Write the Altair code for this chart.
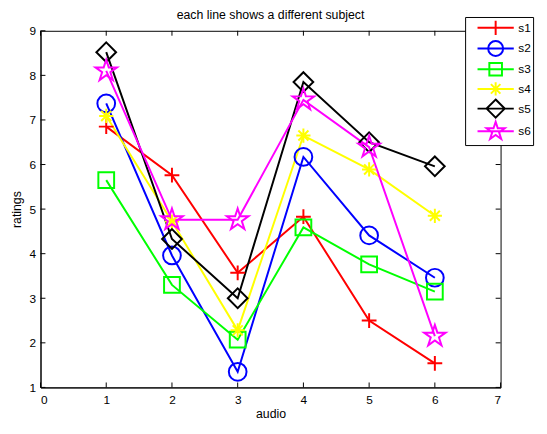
import math
import altair as alt
import pandas as pd

# ---------------- data ----------------
series = ["s1", "s2", "s3", "s4", "s5", "s6"]
audio = [1, 2, 3, 4, 5, 6]
s1 = [6.85, 5.76, 3.57, 4.83, 2.50, 1.54]
s2 = [7.37, 3.96, 1.35, 6.17, 4.41, 3.46]
s3 = [5.65, 3.30, 2.07, 4.59, 3.76, 3.15]
s4 = [7.09, 4.72, 2.28, 6.65, 5.89, 4.85]
s5 = [8.52, 4.33, 3.00, 7.85, 6.50, 5.96]
s6 = [8.10, 4.76, 4.76, 7.45, 6.39, 2.15]
x_ticks = [0, 1, 2, 3, 4, 5, 6, 7]
y_ticks = [1, 2, 3, 4, 5, 6, 7, 8, 9]

colors = ["#ff0000", "#0000ff", "#00ff00", "#ffff00", "#000000", "#ff00ff"]

rows = []
for name, vals in zip(series, [s1, s2, s3, s4, s5, s6]):
    for a, v in zip(audio, vals):
        rows.append({"series": name, "audio": a, "rating": v})
df = pd.DataFrame(rows)

# ---------------- marker paths ----------------
def f(v):
    return f"{v:.3f}"

def plus(r):
    return f"M{f(-r)},0L{f(r)},0M0,{f(-r)}L0,{f(r)}"

def circle(r):
    return f"M{f(r)},0A{f(r)},{f(r)} 0 1,1 {f(-r)},0A{f(r)},{f(r)} 0 1,1 {f(r)},0Z"

def square(r):
    return f"M{f(-r)},{f(-r)}L{f(r)},{f(-r)}L{f(r)},{f(r)}L{f(-r)},{f(r)}Z"

def asterisk(r):
    d = r * 0.707
    return plus(r) + f"M{f(-d)},{f(-d)}L{f(d)},{f(d)}M{f(-d)},{f(d)}L{f(d)},{f(-d)}"

def diamond(r):
    return f"M0,{f(-r)}L{f(r)},0L0,{f(r)}L{f(-r)},0Z"

def star(R):
    ri = R * 0.382
    pts = []
    for k in range(10):
        ang = math.radians(-90 + 36 * k)
        rr = R if k % 2 == 0 else ri
        pts.append((rr * math.cos(ang), rr * math.sin(ang)))
    return "M" + "L".join(f"{f(x)},{f(y)}" for x, y in pts) + "Z"

chart_shapes = [plus(0.75), circle(0.9), square(0.8), asterisk(0.72), diamond(1.0), star(1.15)]

def with_line(p, L=2.3):
    return f"M{f(-L)},0L{f(L)},0" + p

legend_shapes = [with_line(plus(0.9)), with_line(circle(0.95)), with_line(square(0.8)),
                 with_line(asterisk(0.85)), with_line(diamond(1.15)), with_line(star(1.2))]

FONT = "Liberation Sans"
W, H = 467, 362

xscale = alt.Scale(domain=[0, 7], nice=False, zero=False)
yscale = alt.Scale(domain=[1, 9], nice=False, zero=False)

xaxis = alt.Axis(values=x_ticks, ticks=False, grid=False, title="audio", labelPadding=7,
                 titlePadding=3, domainColor="black", labelColor="black", titleColor="black",
                 labelFontSize=12, titleFontSize=12.5, titleFontWeight="normal", format="d")
yaxis = alt.Axis(values=y_ticks, ticks=False, grid=False, title="ratings", labelPadding=5,
                 titlePadding=6, domainColor="black", labelColor="black", titleColor="black",
                 labelFontSize=12, titleFontSize=12.5, titleFontWeight="normal", format="d")

color_scale = alt.Scale(domain=series, range=colors)

# inner ticks (MATLAB style, pointing inward on all four sides)
tx = 5.0 / W * 7
ty = 5.0 / H * 8
xt_df = pd.DataFrame({"v": x_ticks})
yt_df = pd.DataFrame({"v": y_ticks})

tick_kw = dict(color="black", strokeWidth=1)
xb = alt.Chart(xt_df).transform_calculate(a="1", b=f"1+{ty}").mark_rule(**tick_kw).encode(
    x=alt.X("v:Q", scale=xscale, axis=xaxis), y=alt.Y("a:Q", scale=yscale, axis=yaxis), y2="b:Q")
xtp = alt.Chart(xt_df).transform_calculate(a="9", b=f"9-{ty}").mark_rule(**tick_kw).encode(
    x=alt.X("v:Q", scale=xscale), y=alt.Y("a:Q", scale=yscale), y2="b:Q")
yl = alt.Chart(yt_df).transform_calculate(a="0", b=f"{tx}").mark_rule(**tick_kw).encode(
    y=alt.Y("v:Q", scale=yscale), x=alt.X("a:Q", scale=xscale), x2="b:Q")
yr = alt.Chart(yt_df).transform_calculate(a="7", b=f"7-{tx}").mark_rule(**tick_kw).encode(
    y=alt.Y("v:Q", scale=yscale), x=alt.X("a:Q", scale=xscale), x2="b:Q")

lines = alt.Chart(df).mark_line(strokeWidth=2).encode(
    x=alt.X("audio:Q", scale=xscale),
    y=alt.Y("rating:Q", scale=yscale),
    color=alt.Color("series:N", scale=color_scale, legend=None),
)

points = alt.Chart(df).mark_point(filled=False, size=400, strokeWidth=2, opacity=1).encode(
    x=alt.X("audio:Q", scale=xscale),
    y=alt.Y("rating:Q", scale=yscale),
    color=alt.Color("series:N", scale=color_scale, legend=None),
    shape=alt.Shape("series:N", scale=alt.Scale(domain=series, range=chart_shapes), legend=None),
)

leg = alt.Legend(orient="none", legendX=431, legendY=-14, title=None, padding=2,
                 strokeColor="black", fillColor="white", symbolSize=256, symbolStrokeWidth=2,
                 symbolOffset=20, labelOffset=14, labelFontSize=12, labelFont=FONT,
                 labelColor="black", rowPadding=-8, symbolFillColor="transparent")

legend_layer = alt.Chart(df).transform_filter("false").mark_point(
    filled=False, strokeWidth=2, opacity=1).encode(
    color=alt.Color("series:N", scale=color_scale, legend=leg),
    shape=alt.Shape("series:N", scale=alt.Scale(domain=series, range=legend_shapes), legend=leg),
)

chart = alt.layer(xb, xtp, yl, yr, lines, points, legend_layer).resolve_scale(
    color="independent", shape="independent"
).properties(
    width=W, height=H,
    title=alt.TitleParams("each line shows a different subject", fontSize=12.5, font=FONT,
                          fontWeight="normal", color="black", anchor="middle", offset=0, dy=5),
    padding={"left": 33, "top": 20, "right": 39, "bottom": 34},
    autosize="none",
).configure(font=FONT).configure_view(stroke="black", strokeWidth=1).configure_axis(
    labelFont=FONT, titleFont=FONT
)

chart.save("out.html", embed_options={"renderer": "svg", "actions": False})
